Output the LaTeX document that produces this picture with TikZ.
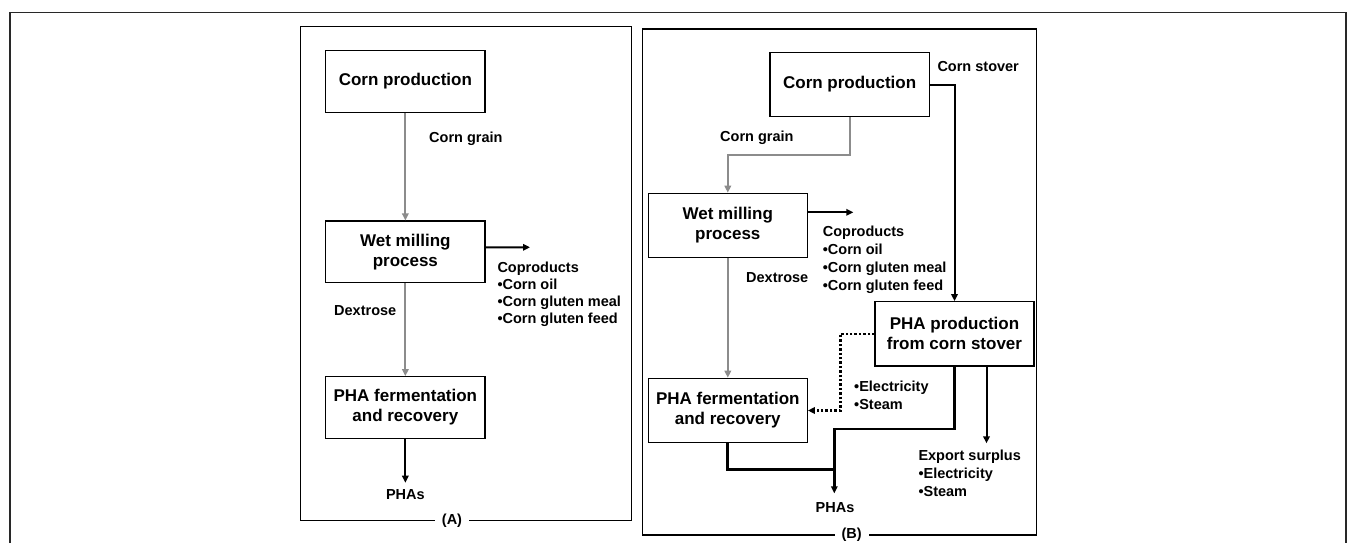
\documentclass[tikz,border=0pt]{standalone}
\usepackage{fontspec}
\setmainfont{Liberation Sans}
\usetikzlibrary{arrows.meta}
\definecolor{flowgray}{RGB}{140,140,140}
\definecolor{framegray}{RGB}{40,40,40}
\begin{document}
\begin{tikzpicture}[x=1pt,y=-1pt,
  box/.style={draw=black,line width=1.2pt,minimum width=159.3pt,inner sep=0pt,align=center,font=\fontsize{17}{20}\selectfont\bfseries},
  lbl/.style={inner sep=0pt,align=left,font=\fontsize{14.5}{17.5}\selectfont\bfseries},
  tip/.style={-{Triangle[length=7pt,width=6.5pt]}},
  garrow/.style={tip,draw=flowgray,line width=2pt},
  barrow/.style={tip,draw=black,line width=2pt},
  tarrow/.style={tip,draw=black,line width=2.8pt},
  darrow/.style={tip,draw=black,line width=2.4pt,dotted},
  panel/.style={draw=black,line width=1.5pt},
  plabel/.style={fill=white,inner xsep=7pt,inner ysep=1pt,font=\fontsize{14.5}{17}\selectfont\bfseries}]
\useasboundingbox (0,0) rectangle (1348,543);
% outer frame
\draw[framegray,line width=1.5pt] (10,543) -- (10,12.5) -- (1346,12.5) -- (1346,543);
% panels
\draw[panel] (300.7,26.7) rectangle (631.7,520.7);
\draw[panel] (642.7,29) rectangle (1036.7,535);
\node[plabel] (labA) at (452,520.7) {(A)};
\node[plabel] (labB) at (851.7,535) {(B)};
% ---------- Panel A ----------
\node[box,minimum height=61.6pt] (aCorn) at (405.35,81.5) {Corn production};
\node[box,minimum height=61.6pt] (aWet) at (405.35,251.85) {Wet milling\\process};
\node[box,minimum height=61.6pt] (aFerm) at (405.35,407.5) {PHA fermentation\\and recovery};
\node[lbl,anchor=base west] (aGrain) at (429,142) {Corn grain};
\node[lbl,anchor=base west] (aDex) at (334,315) {Dextrose};
\node[lbl,anchor=north west,font=\fontsize{14.5}{17.2}\selectfont\bfseries] (aCo) at (497.3,261.5) {Coproducts\\•Corn oil\\•Corn gluten meal\\•Corn gluten feed};
\node[lbl,anchor=base] (aPHA) at (405.35,499.5) {PHAs};
\coordinate (aCoTip) at (530,247.3);
\coordinate (aPHATip) at (405.35,482.7);
\draw[garrow] (aCorn.south) -- (aWet.north);
\draw[garrow] (aWet.south) -- (aFerm.north);
\draw[barrow] ([yshift=4.5pt]aWet.east) -- (aCoTip);
\draw[barrow] (aFerm.south) -- (aPHATip);
% ---------- Panel B ----------
\node[box,minimum height=64.4pt] (bCorn) at (849.65,84.5) {Corn production};
\node[box,minimum height=64pt,minimum width=159pt] (bWet) at (727.8,225.3) {Wet milling\\process};
\node[box,minimum height=64.4pt,minimum width=159pt] (bFerm) at (727.8,410.5) {PHA fermentation\\and recovery};
\node[box,minimum height=64.3pt,minimum width=159pt] (bProd) at (954.5,333.85) {PHA production\\from corn stover};
\node[lbl,anchor=base west] (bStover) at (937.3,71) {Corn stover};
\node[lbl,anchor=base west] (bGrain) at (720,141.7) {Corn grain};
\node[lbl,anchor=base west] (bDex) at (746,282.3) {Dextrose};
\node[lbl,anchor=north west,font=\fontsize{14.5}{18}\selectfont\bfseries] (bCo) at (822.7,226.2) {Coproducts\\•Corn oil\\•Corn gluten meal\\•Corn gluten feed};
\node[lbl,anchor=north west,font=\fontsize{14.5}{18}\selectfont\bfseries] (bEl) at (854,380.5) {•Electricity\\•Steam};
\node[lbl,anchor=north west,font=\fontsize{14.5}{18}\selectfont\bfseries] (bExp) at (918.3,450.2) {Export surplus\\•Electricity\\•Steam};
\node[lbl,anchor=base] (bPHA) at (835,512.7) {PHAs};
\coordinate (bCoTip) at (853.3,212.3);
\coordinate (bJoin) at (834.3,469.3);
\coordinate (bPHATip) at (834.3,493.3);
\draw[garrow] (bCorn.south) -- ++(0,37.6) -| (bWet.north);
\draw[garrow] (bWet.south) -- (bFerm.north);
\draw[barrow] ([yshift=13pt]bWet.east) -- (bCoTip);
\draw[barrow] (bCorn.east) -| (bProd.north);
\draw[darrow] (bProd.west) -- ++(-34,0) |- (bFerm.east);
\draw[tarrow] (bProd.south) -- ++(0,62.3) -| (bPHATip);
\draw[draw=black,line width=2.8pt] (bFerm.south) |- (bJoin);
\draw[barrow] ([xshift=32pt]bProd.south) -- ++(0,76.7);
\end{tikzpicture}
\end{document}
